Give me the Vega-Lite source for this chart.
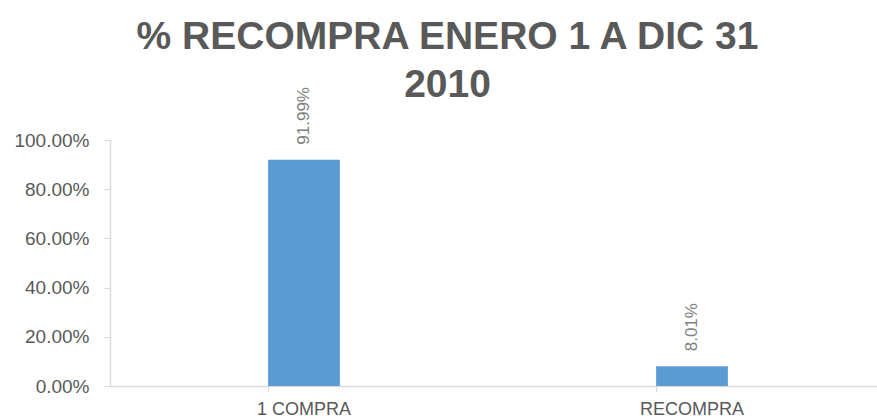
{
  "$schema": "https://vega.github.io/schema/vega-lite/v6.json",
  "autosize": {"type": "none"},
  "width": 767,
  "height": 246,
  "padding": {"left": 110, "top": 140, "right": 0, "bottom": 33},
  "background": "white",
  "title": {
    "text": ["% RECOMPRA ENERO 1 A DIC 31", "2010"],
    "font": "Liberation Sans",
    "fontSize": 39,
    "fontWeight": "bold",
    "color": "#595959",
    "lineHeight": 48,
    "anchor": "middle",
    "dx": -46,
    "dy": 91,
    "offset": 42,
    "baseline": "alphabetic"
  },
  "data": {
    "values": [
      {"cat": "1 COMPRA", "pct": 0.9199},
      {"cat": "RECOMPRA", "pct": 0.0801}
    ]
  },
  "config": {
    "view": {"stroke": null},
    "axis": {"grid": false, "domainColor": "#d9d9d9", "tickColor": "#d9d9d9", "labelColor": "#595959", "labelFont": "Liberation Sans"}
  },
  "encoding": {
    "x": {
      "field": "cat",
      "type": "nominal",
      "sort": null,
      "scale": {"range": [0, 776], "paddingInner": 0.815, "paddingOuter": 0.4075},
      "axis": {"title": null, "labelAngle": 0, "labelFontSize": 18, "bandPosition": 0, "tickSize": 6, "labelPadding": 8, "domainWidth": 1.5}
    }
  },
  "layer": [
    {
      "mark": {"type": "bar", "color": "#5b9bd5"},
      "encoding": {
        "y": {
          "field": "pct",
          "type": "quantitative",
          "scale": {"domain": [0, 1], "nice": false},
          "axis": {"title": null, "values": [0, 0.2, 0.4, 0.6, 0.8, 1], "format": ".2%", "labelFontSize": 19, "tickSize": 6, "labelPadding": 15, "domainWidth": 1.5}
        }
      }
    },
    {
      "mark": {"type": "text", "angle": 270, "align": "left", "baseline": "middle", "dx": 15, "font": "Liberation Sans", "fontSize": 17, "color": "#808080"},
      "encoding": {
        "y": {"field": "pct", "type": "quantitative"},
        "text": {"field": "pct", "type": "quantitative", "format": ".2%"}
      }
    }
  ]
}
